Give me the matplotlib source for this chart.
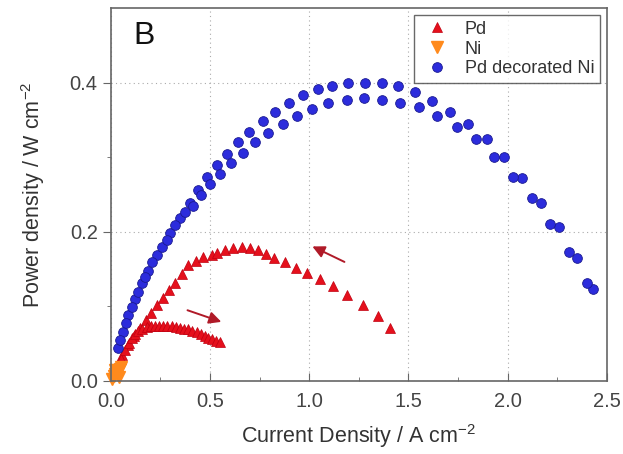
import numpy as np
import matplotlib as mpl
import matplotlib.pyplot as plt

mpl.rcParams['font.family'] = ['Liberation Sans', 'DejaVu Sans']
mpl.rcParams['mathtext.fontset'] = 'custom'
mpl.rcParams['mathtext.rm'] = 'Liberation Sans'
mpl.rcParams['mathtext.it'] = 'Liberation Sans'
mpl.rcParams['text.color'] = '#333333'

# Pd, reverse scan (big arc)
pd_rev_j = [0.030, 0.055, 0.086, 0.116, 0.146, 0.176, 0.202, 0.232, 0.262, 0.292, 0.323,
            0.358, 0.388, 0.428, 0.464, 0.509, 0.534, 0.575, 0.615, 0.660, 0.701, 0.741,
            0.781, 0.822, 0.877, 0.932, 0.988, 1.053, 1.119, 1.190, 1.270, 1.346, 1.406]
pd_rev_p = [0.021, 0.035, 0.048, 0.060, 0.071, 0.082, 0.091, 0.102, 0.111, 0.122, 0.132,
            0.144, 0.155, 0.161, 0.166, 0.169, 0.171, 0.175, 0.178, 0.179, 0.178, 0.175,
            0.170, 0.165, 0.159, 0.152, 0.145, 0.137, 0.127, 0.115, 0.102, 0.087, 0.071]

# Pd, forward scan (small arc)
pd_fwd_j = [0.020, 0.035, 0.050, 0.071, 0.090, 0.106, 0.120, 0.136, 0.158, 0.181, 0.202,
            0.222, 0.242, 0.262, 0.285, 0.307, 0.328, 0.348, 0.368, 0.388, 0.410, 0.433,
            0.454, 0.474, 0.492, 0.509, 0.530, 0.549]
pd_fwd_p = [0.010, 0.019, 0.030, 0.041, 0.051, 0.058, 0.063, 0.067, 0.070, 0.072, 0.073,
            0.074, 0.074, 0.074, 0.074, 0.073, 0.072, 0.071, 0.070, 0.069, 0.067, 0.065,
            0.063, 0.060, 0.058, 0.056, 0.054, 0.052]

# Ni (only a few points near the origin)
ni_j = [0.008, 0.015, 0.022, 0.030, 0.038, 0.045, 0.052, 0.040, 0.020]
ni_p = [0.003, 0.006, 0.009, 0.012, 0.014, 0.016, 0.018, 0.005, 0.015]

# Pd decorated Ni, upper branch
pdni_a_j = [0.035, 0.060, 0.086, 0.121, 0.156, 0.186, 0.232, 0.257, 0.297, 0.348, 0.398,
            0.438, 0.484, 0.534, 0.585, 0.640, 0.696, 0.766, 0.827, 0.897, 0.968, 1.043,
            1.114, 1.195, 1.280, 1.366, 1.447, 1.532, 1.618, 1.709, 1.799, 1.895, 1.981,
            2.071, 2.167, 2.258, 2.349, 2.429]
pdni_a_p = [0.044, 0.066, 0.088, 0.110, 0.131, 0.148, 0.169, 0.180, 0.199, 0.218, 0.239,
            0.256, 0.273, 0.289, 0.304, 0.320, 0.334, 0.348, 0.361, 0.373, 0.383, 0.391,
            0.396, 0.399, 0.400, 0.399, 0.395, 0.387, 0.376, 0.361, 0.345, 0.324, 0.300,
            0.272, 0.239, 0.206, 0.165, 0.123]

# Pd decorated Ni, lower branch
pdni_b_j = [0.045, 0.076, 0.106, 0.136, 0.171, 0.207, 0.282, 0.323, 0.373, 0.413, 0.454,
            0.499, 0.549, 0.605, 0.665, 0.726, 0.791, 0.867, 0.938, 1.013, 1.094, 1.190,
            1.275, 1.366, 1.457, 1.552, 1.643, 1.744, 1.840, 1.930, 2.026, 2.122, 2.213,
            2.308, 2.399]
pdni_b_p = [0.055, 0.078, 0.099, 0.119, 0.139, 0.159, 0.189, 0.209, 0.226, 0.235, 0.249,
            0.264, 0.277, 0.292, 0.306, 0.320, 0.332, 0.344, 0.355, 0.365, 0.373, 0.377,
            0.379, 0.377, 0.373, 0.367, 0.356, 0.341, 0.324, 0.300, 0.274, 0.245, 0.211,
            0.173, 0.131]

fig = plt.figure(figsize=(6.23, 4.54), dpi=100)
ax = fig.add_axes([0.178, 0.161, 0.796, 0.821])

red = '#e5101c'
blue = '#2c2cdc'
orange = '#ff8a1c'

ax.plot(pd_rev_j, pd_rev_p, '^', color=red, ms=7, mec='#c00010', mew=0.5, label='Pd')
ax.plot(pd_fwd_j, pd_fwd_p, '^', color=red, ms=7, mec='#c00010', mew=0.5)
ax.plot(ni_j, ni_p, 'v', color=orange, ms=9, mec=orange, label='Ni', clip_on=False)
ax.plot(pdni_a_j, pdni_a_p, 'o', color=blue, ms=7, mec='#1a1a90', mew=0.6, label='Pd decorated Ni')
ax.plot(pdni_b_j, pdni_b_p, 'o', color=blue, ms=7, mec='#1a1a90', mew=0.6)

# scan direction arrows
arr = dict(arrowstyle='-|>', color='#b01a28', lw=1.4, mutation_scale=18)
ax.annotate('', xy=(1.003, 0.182), xytext=(1.19, 0.158), arrowprops=arr)
ax.annotate('', xy=(0.57, 0.078), xytext=(0.373, 0.096), arrowprops=arr)

ax.set_xlim(0, 2.5)
ax.set_ylim(0, 0.5)
ax.set_xticks(np.arange(0, 2.51, 0.5))
ax.set_yticks([0.0, 0.2, 0.4])
ax.set_xticks(np.arange(0.25, 2.5, 0.5), minor=True)
ax.set_yticks([0.1, 0.3], minor=True)
ax.set_xticklabels(['0.0', '0.5', '1.0', '1.5', '2.0', '2.5'])
ax.set_yticklabels(['0.0', '0.2', '0.4'])

ax.grid(True, which='major', color='#aaaaaa', linestyle=(0, (1, 3)), lw=0.8)
ax.set_axisbelow(True)

for s in ax.spines.values():
    s.set_color('#666666')
    s.set_linewidth(1.2)
ax.tick_params(axis='both', which='both', colors='#666666', labelcolor='#444444', labelsize=14.5)
ax.tick_params(axis='x', which='major', direction='in', length=6, pad=8)
ax.tick_params(axis='x', which='minor', direction='in', length=3)
ax.tick_params(axis='y', which='major', direction='out', length=6)
ax.tick_params(axis='y', which='minor', direction='out', length=3)

ax.set_xlabel('Current Density / A cm$^{-2}$', fontsize=15.5, color='#333333', labelpad=8)
ax.set_ylabel('Power density / W cm$^{-2}$', fontsize=15.5, color='#333333', labelpad=16)

ax.text(0.045, 0.905, 'B', transform=ax.transAxes, fontsize=23, color='#111111')

leg = ax.legend(loc='upper right', fontsize=13, frameon=True, fancybox=False,
                borderpad=0.3, labelspacing=0.15, handlelength=2.0, handletextpad=0.5,
                borderaxespad=0.4, numpoints=1)
leg.get_frame().set_edgecolor('#444444')
leg.get_frame().set_linewidth(1.0)

plt.savefig('out.png', dpi=100)
